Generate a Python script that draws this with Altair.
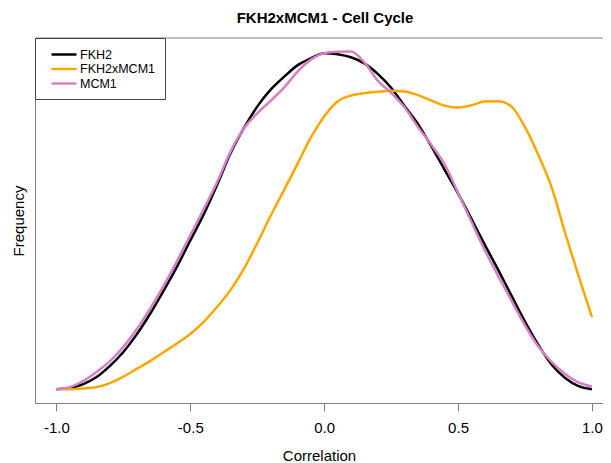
import altair as alt
import pandas as pd

# Correlation grid (x) and density estimates
corr = [-1.00, -0.95, -0.90, -0.85, -0.80, -0.75, -0.70, -0.65, -0.60, -0.55,
        -0.50, -0.45, -0.40, -0.35, -0.30, -0.25, -0.20, -0.15, -0.10, -0.05,
        0.00, 0.05, 0.10, 0.15, 0.20, 0.25, 0.30, 0.35, 0.40, 0.45,
        0.50, 0.55, 0.60, 0.65, 0.70, 0.75, 0.80, 0.85, 0.90, 0.95, 1.00]

fkh2 = [0.001, 0.004, 0.016, 0.037, 0.070, 0.111, 0.163, 0.224, 0.292, 0.363,
        0.441, 0.518, 0.605, 0.698, 0.773, 0.837, 0.887, 0.925, 0.959, 0.980,
        0.995, 0.992, 0.983, 0.965, 0.934, 0.893, 0.839, 0.786, 0.720, 0.650,
        0.580, 0.505, 0.428, 0.354, 0.277, 0.201, 0.132, 0.073, 0.034, 0.010, 0.001]

fkh2xmcm1 = [0.001, 0.001, 0.003, 0.007, 0.019, 0.038, 0.061, 0.084, 0.110, 0.136,
             0.164, 0.200, 0.244, 0.294, 0.357, 0.433, 0.514, 0.590, 0.667, 0.745,
             0.808, 0.852, 0.870, 0.877, 0.881, 0.884, 0.882, 0.871, 0.855, 0.840,
             0.834, 0.841, 0.852, 0.853, 0.837, 0.776, 0.694, 0.597, 0.463, 0.336, 0.215]

mcm1 = [0.001, 0.007, 0.025, 0.052, 0.084, 0.126, 0.178, 0.240, 0.306, 0.379,
        0.456, 0.533, 0.613, 0.703, 0.772, 0.817, 0.854, 0.893, 0.940, 0.976,
        0.995, 0.999, 1.000, 0.968, 0.914, 0.878, 0.835, 0.777, 0.724, 0.666,
        0.582, 0.496, 0.412, 0.336, 0.262, 0.190, 0.127, 0.081, 0.046, 0.021, 0.009]

series_names = ["FKH2", "FKH2xMCM1", "MCM1"]
series_colors = ["#000000", "#FFA500", "#D67FC6"]
x_ticks = [-1.0, -0.5, 0.0, 0.5, 1.0]

rows = []
for name, vals in zip(series_names, [fkh2, fkh2xmcm1, mcm1]):
    for i, (c, v) in enumerate(zip(corr, vals)):
        rows.append({"Correlation": c, "Density": v, "Series": name, "idx": i})
df = pd.DataFrame(rows)

W, H = 568, 365
FONT = "Liberation Sans"
AX = "#808080"

lines = alt.Chart(df).mark_line(strokeWidth=2.5, interpolate="monotone").encode(
    x=alt.X("Correlation:Q",
            scale=alt.Scale(domain=[-1.08, 1.0414], nice=False, zero=False),
            axis=alt.Axis(values=x_ticks, format=".1f",
                          labelExpr="replace(datum.label, '\u2212', '-')",
                          title="Correlation", grid=False, tickSize=8,
                          tickColor=AX, domainColor=AX, labelColor="black",
                          labelFont=FONT, labelFontSize=15, labelPadding=9,
                          titleFont=FONT, titleFontSize=15, titleFontWeight="normal",
                          titleColor="black", titlePadding=13, labelFlush=False)),
    y=alt.Y("Density:Q",
            scale=alt.Scale(domain=[-0.04, 1.04], nice=False, zero=False),
            axis=alt.Axis(title="Frequency", labels=False, ticks=False, grid=False,
                          domainColor=AX, titleFont=FONT, titleFontSize=15,
                          titleFontWeight="normal", titleColor="black", titlePadding=9)),
    color=alt.Color("Series:N",
                    scale=alt.Scale(domain=series_names, range=series_colors),
                    legend=alt.Legend(title=None, orient="none", legendX=0, legendY=0,
                                      strokeColor="#444", fillColor="white", padding=9,
                                      symbolType="M-2,0L2,0", symbolSize=156.25,
                                      symbolStrokeWidth=2.5, symbolOffset=12.5,
                                      labelFont=FONT, labelFontSize=12.5, labelColor="black",
                                      labelOffset=8.5, rowPadding=0.5)),
    order="idx:Q",
)

top = alt.Chart(pd.DataFrame({"k": [0]})).mark_rule(color=AX, strokeWidth=1).encode(
    x=alt.value(0), x2=alt.value(W), y=alt.value(0)
)

chart = alt.layer(lines, top).properties(
    width=W, height=H,
    title=alt.Title("FKH2xMCM1 - Cell Cycle", font=FONT, fontSize=15, fontWeight="bold",
                    anchor="middle", frame="group", offset=0, baseline="alphabetic",
                    color="black", dx=6),
    padding={"left": 27, "top": 30, "right": 0, "bottom": 60},
    autosize=alt.AutoSizeParams(type="none"),
).configure_view(stroke=None)

chart.save("out.html", embed_options={"renderer": "svg", "actions": False})
